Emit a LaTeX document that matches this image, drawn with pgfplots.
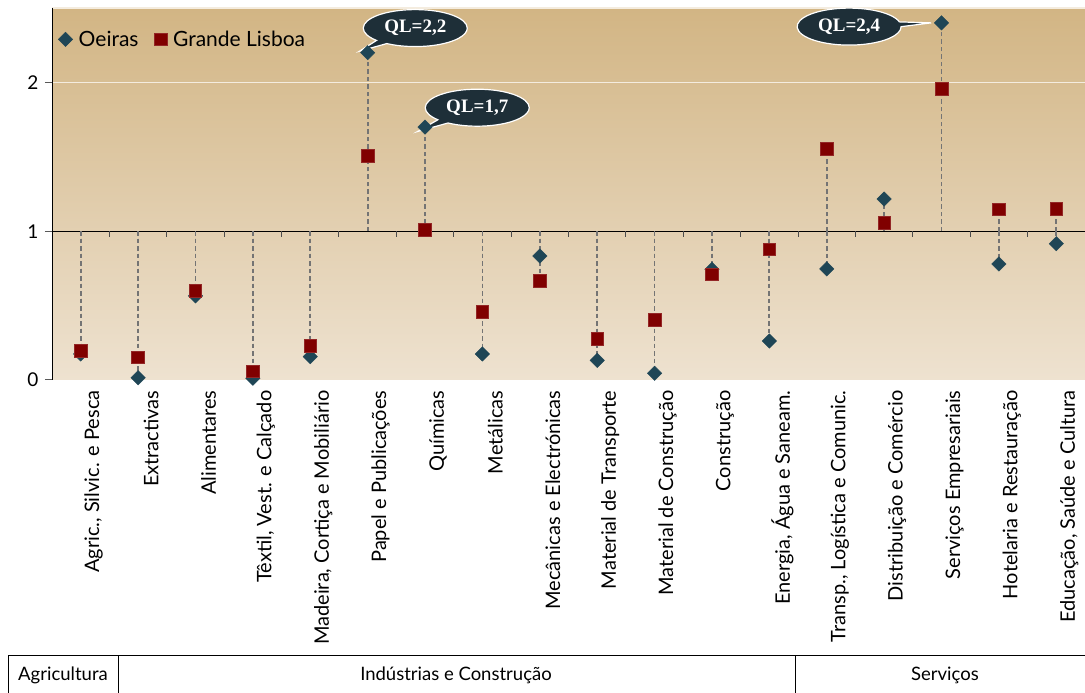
\documentclass[border=0pt]{standalone}
\usepackage{fontspec}
\setmainfont{Lato}
\newfontfamily\calloutfont{Liberation Serif}
\usepackage{pgfplots}
\pgfplotsset{compat=1.18}
\usepackage{pgfplotstable}
\usetikzlibrary{shapes.callouts}

\definecolor{bgtop}{HTML}{D2B584}
\definecolor{bgbot}{HTML}{EEE2D0}
\definecolor{oeiras}{HTML}{1F4656}
\definecolor{lisboa}{HTML}{800000}
\definecolor{bubble}{HTML}{1E2F38}
\definecolor{stem}{HTML}{747474}
\definecolor{gridcream}{HTML}{F4ECDF}

% Quociente de localizacao por sector: Oeiras (o) e Grande Lisboa (g)
\pgfplotstableread{
x  o      g
0  0.175  0.195
1  0.015  0.152
2  0.565  0.600
3  0.012  0.058
4  0.157  0.228
5  2.200  1.505
6  1.700  1.008
7  0.175  0.459
8  0.833  0.665
9  0.132  0.275
10 0.045  0.403
11 0.744  0.710
12 0.262  0.878
13 0.746  1.555
14 1.216  1.055
15 2.400  1.956
16 0.780  1.147
17 0.916  1.149
}\qldata

\begin{document}
\begin{tikzpicture}[x=1pt,y=1pt]
\useasboundingbox (0,0) rectangle (1085,693);
\begin{axis}[
  at={(52pt,313pt)}, anchor=south west,
  scale only axis, width=1033pt, height=372pt,
  xmin=-0.5, xmax=17.5, ymin=0, ymax=2.5,
  clip=false,
  axis line style={draw=none},
  axis background/.style={top color=bgtop, bottom color=bgbot},
  xtick={0,...,17},
  xticklabels={{Agric., Silvic. e Pesca},Extractivas,Alimentares,{Têxtil, Vest. e Calçado},{Madeira, Cortiça e Mobiliário},Papel e Publicações,Químicas,Metálicas,Mecânicas e Electrónicas,Material de Transporte,Material de Construção,Construção,{Energia, Água e Saneam.},{Transp., Logística e Comunic.},Distribuição e Comércio,Serviços Empresariais,Hotelaria e Restauração,{Educação, Saúde e Cultura}},
  xticklabel style={rotate=90, anchor=east, yshift=-13pt, font=\fontsize{20}{24}\selectfont},
  x tick style={draw=none},
  ytick={0,1,2},
  y tick style={draw=gray!70!black, line width=1pt},
  tick align=outside, major tick length=7pt,
  yticklabel style={font=\fontsize{19}{22}\selectfont, xshift=-3pt},
  /pgf/number format/assume math mode=true,
  legend columns=2,
  legend style={at={(0.003,0.95)}, anchor=north west, draw=none, fill=none,
    font=\fontsize{21}{24}\selectfont,
    /tikz/every odd column/.append style={column sep=4pt},
    /tikz/every even column/.append style={column sep=14pt}},
  legend cell align=left,
]
% guides: white line at 2, reference line at 1, left axis line, top edge
\draw[gridcream, line width=1.6pt] (axis cs:-0.5,2) -- (axis cs:17.5,2);
\draw[gridcream, line width=1.6pt] (rel axis cs:0,1) -- (rel axis cs:1,1);
\draw[black, line width=1pt] (axis cs:-0.5,1) -- (axis cs:17.5,1);
\draw[black, line width=1pt] (rel axis cs:0,0) -- (rel axis cs:0,1);
\pgfplotsinvokeforeach{0.5,1.5,...,16.5}{
  \draw[gray!60!black, line width=1pt] (axis cs:#1,1) -- ([yshift=-6pt]axis cs:#1,1);
}
% dashed stems from the reference value 1
\addplot[forget plot, stem, line width=1.8pt, dash pattern=on 4.5pt off 3pt,
  quiver={u=0, v=\thisrow{o}-1}] table[x=x, y expr=1] {\qldata};
\addplot[forget plot, stem, line width=1.8pt, dash pattern=on 4.5pt off 3pt,
  quiver={u=0, v=\thisrow{g}-1}] table[x=x, y expr=1] {\qldata};
% markers
\addplot[only marks, mark=square*, mark size=5.1pt,
  mark options={rotate=45, fill=oeiras, draw=oeiras}] table[x=x, y=o] {\qldata};
\addlegendentry{Oeiras}
\addplot[only marks, mark=square*, mark size=6.3pt,
  mark options={fill=lisboa, draw=lisboa!85!white, line width=0.6pt}] table[x=x, y=g] {\qldata};
\addlegendentry{Grande Lisboa}
% callouts for the highest values
\tikzset{qlbubble/.style={ellipse callout, fill=bubble, draw=white, line width=1.2pt,
  text=white, font=\calloutfont\bfseries\fontsize{19}{22}\selectfont,
  minimum width=104pt, minimum height=37pt, inner sep=0pt}}
\node[qlbubble, callout absolute pointer={(axis cs:4.86,2.21)}] at (axis cs:5.83,2.365) {QL=2,2};
\node[qlbubble, callout absolute pointer={(axis cs:5.87,1.67)}] at (axis cs:6.91,1.83) {QL=1,7};
\node[qlbubble, callout absolute pointer={(axis cs:14.82,2.40)}] at (axis cs:13.39,2.375) {QL=2,4};
\end{axis}
% sector groups below the categories
\draw[black, line width=1pt] (8,37) -- (1085,37);
\draw[black, line width=1pt] (8,37) -- (8,0);
\draw[black, line width=1pt] (118,37) -- (118,0);
\draw[black, line width=1pt] (795,37) -- (795,0);
\node[font=\fontsize{18.5}{22}\selectfont] at (63,18) {Agricultura};
\node[font=\fontsize{18.5}{22}\selectfont] at (456,18) {Indústrias e Construção};
\node[font=\fontsize{18.5}{22}\selectfont] at (945,18) {Serviços};
\end{tikzpicture}
\end{document}
